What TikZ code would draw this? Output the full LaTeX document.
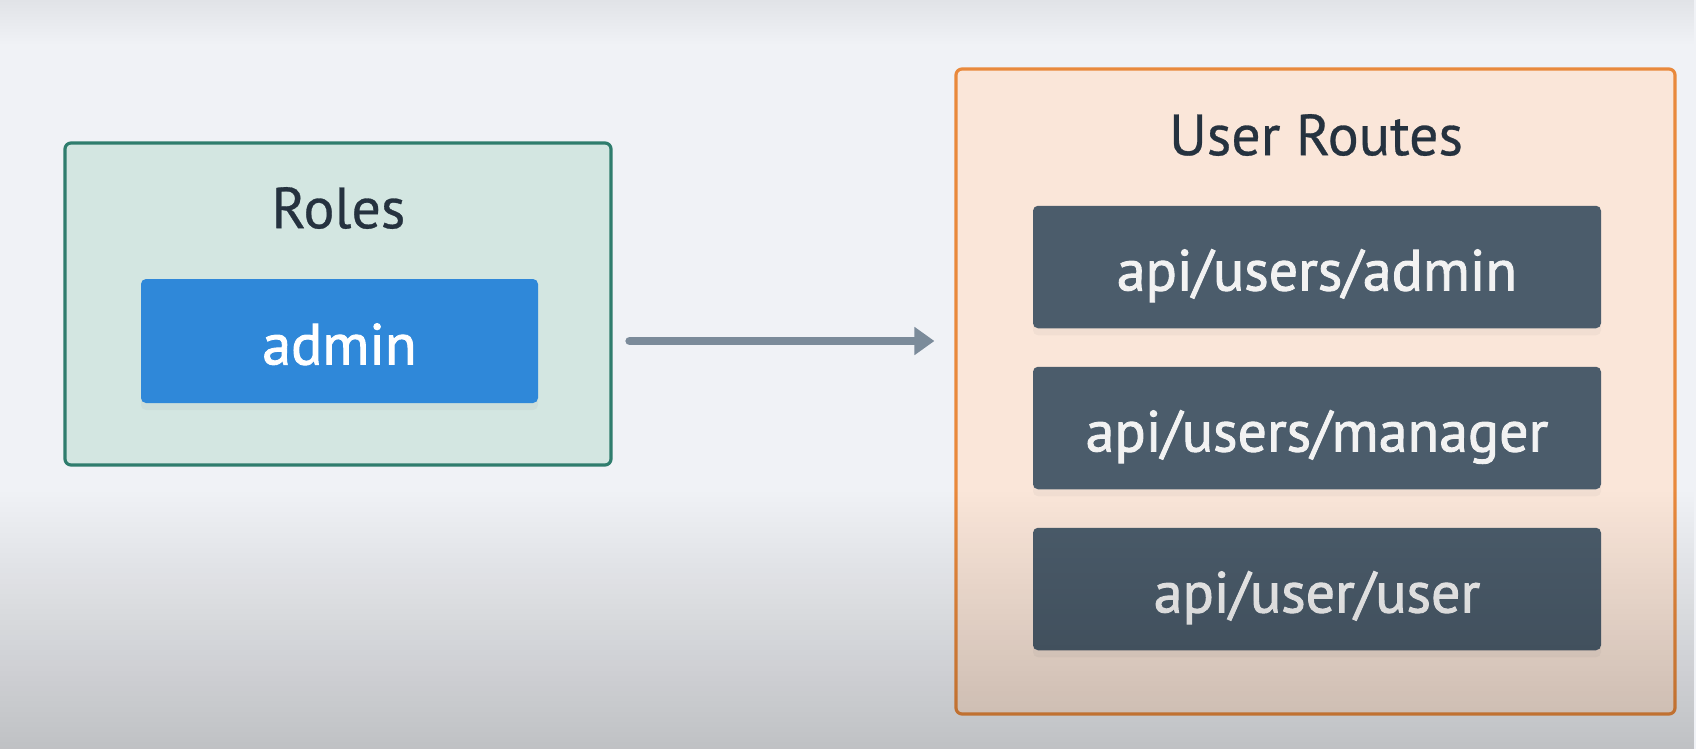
\documentclass[tikz,border=0pt]{standalone}
\usepackage{fontspec}
\setmainfont{PT Sans}
\newfontfamily\titlefont[FakeBold=0.5]{PT Sans}
\newfontfamily\chipfont[FakeBold=1.6]{PT Sans}
\usetikzlibrary{arrows.meta,shadows,fadings}
\definecolor{bgcol}{HTML}{F0F2F6}
\definecolor{rolesfill}{HTML}{D3E6E1}
\definecolor{rolesedge}{HTML}{2F7D6D}
\definecolor{adminblue}{HTML}{2F88D9}
\definecolor{arrowgrey}{HTML}{7B8B9A}
\definecolor{routesfill}{HTML}{FAE6D9}
\definecolor{routesedge}{HTML}{E9893C}
\definecolor{apislate}{HTML}{4B5C6B}
\definecolor{titleink}{HTML}{25323F}
\begin{document}
\begin{tikzpicture}[>={Triangle[length=0.2cm,width=0.27cm]},
  titletext/.style={font=\titlefont\fontsize{16.5}{19}\selectfont, text=titleink, inner sep=0pt},
  groupbox/.style={line width=0.9pt, rounded corners=0.06cm},
  chipbox/.style={rounded corners=0.05cm, text=white, font=\chipfont\fontsize{16.5}{19}\selectfont,
    text height=0.5cm, text depth=0.03cm, inner sep=0pt,
    drop shadow={opacity=0.07, shadow xshift=0pt, shadow yshift=-2pt}},
  apibox/.style={chipbox, fill=apislate, text=white!95!black, minimum width=5.68cm, minimum height=1.225cm}]
\useasboundingbox (0,0) rectangle (16.96,7.49);
\fill[bgcol] (0,0) rectangle (16.96,7.49);
\fill[black, opacity=0.06, path fading=south] (0,7.04) rectangle (16.96,7.49);

\node(Roles)[groupbox, draw=rolesedge, fill=rolesfill, minimum width=5.46cm, minimum height=3.22cm] at (3.38,4.45) {};
\node(RolesT)[titletext] at (3.385,5.41) {Roles};
\node(Admin)[chipbox, fill=adminblue, minimum width=3.97cm, minimum height=1.24cm] at (3.395,4.08) {admin};

\node(Routes)[groupbox, draw=routesedge, fill=routesfill, minimum width=7.19cm, minimum height=6.45cm] at (13.155,3.575) {};
\node(RoutesT)[titletext] at (13.16,6.14) {User Routes};
\node(R1)[apibox] at (13.17,4.82) {api/users/admin};
\node(R2)[apibox] at (13.17,3.21) {api/users/manager};
\node(R3)[apibox] at (13.17,1.60) {api/user/user};

\draw[arrowgrey, line width=2.4pt, line cap=round] ([xshift=0.17cm]Roles.east |- Admin.east) edge[->] ([xshift=-0.2cm]Routes.west |- Admin.east);

\fill[black, opacity=0.2, path fading=north] (0,0) rectangle (16.96,2.6);
\end{tikzpicture}
\end{document}
